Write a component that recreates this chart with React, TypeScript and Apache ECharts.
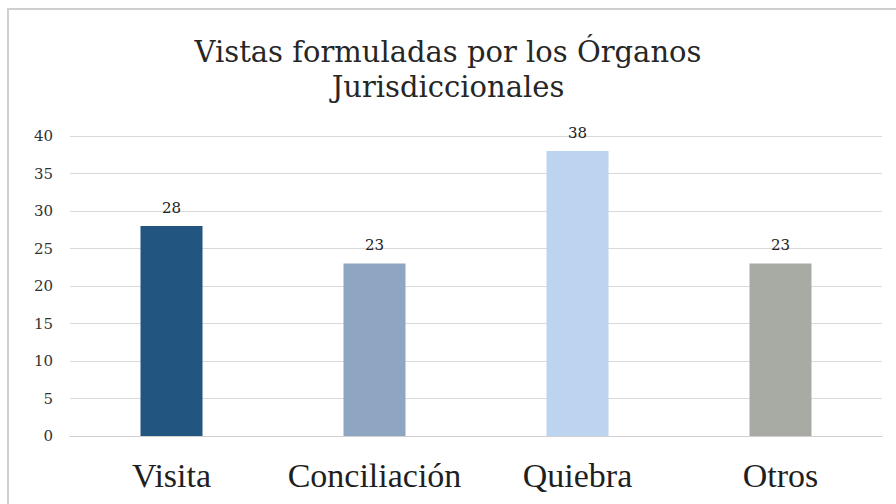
import React, { useEffect, useRef } from "react";
import * as echarts from "echarts";

const categories = ["Visita", "Conciliación", "Quiebra", "Otros"];
const values = [28, 23, 38, 23];
const barColors = ["#22557f", "#8ea6c2", "#bdd4f0", "#a8aba3"];
const titleLines = ["Vistas formuladas por los Órganos", "Jurisdiccionales"];
const serifWide = "'DejaVu Serif', 'Liberation Serif', serif";
const serifNarrow = "'Liberation Serif', 'DejaVu Serif', serif";

export default function App() {
  const ref = useRef<HTMLDivElement>(null);
  useEffect(() => {
    if (!ref.current) return;
    const chart = echarts.init(ref.current, undefined, { renderer: "svg" });
    const titleStyle = {
      fontFamily: serifWide,
      fontSize: 29,
      fontWeight: "normal",
      color: "#262626",
      lineHeight: 34,
    };
    chart.setOption({
      animation: false,
      backgroundColor: "#ffffff",
      graphic: [
        {
          type: "rect",
          shape: { x: 8, y: 9, width: 900, height: 520 },
          style: { fill: "none", stroke: "#cfcfcf", lineWidth: 2 },
          silent: true,
        },
      ],
      title: [
        { text: titleLines[0], left: "center", top: 35, padding: 0, textStyle: titleStyle },
        { text: titleLines[1], left: "center", top: 70, padding: 0, textStyle: titleStyle },
      ],
      grid: { left: 70, right: 14, top: 136, bottom: 68 },
      xAxis: {
        type: "category",
        data: categories,
        axisTick: { show: false },
        axisLine: { lineStyle: { color: "#d0d0d0" } },
        axisLabel: {
          interval: 0,
          fontFamily: serifNarrow,
          fontSize: 34,
          color: "#1f1f1f",
          margin: 22,
        },
      },
      yAxis: {
        type: "value",
        min: 0,
        max: 40,
        interval: 5,
        axisLine: { show: false },
        axisTick: { show: false },
        splitLine: { lineStyle: { color: "#d9d9d9", width: 1 } },
        axisLabel: {
          fontFamily: serifWide,
          fontSize: 15,
          color: "#333",
          margin: 17,
        },
      },
      series: [
        {
          type: "bar",
          data: values.map((v, i) => ({ value: v, itemStyle: { color: barColors[i] } })),
          barWidth: 62,
          label: {
            show: true,
            position: "top",
            distance: 11,
            fontFamily: serifWide,
            fontSize: 15,
            color: "#222",
          },
        },
      ],
    });
    return () => chart.dispose();
  }, []);
  return <div ref={ref} style={{ width: 896, height: 504, position: "absolute", left: 0, top: 0 }} />;
}
